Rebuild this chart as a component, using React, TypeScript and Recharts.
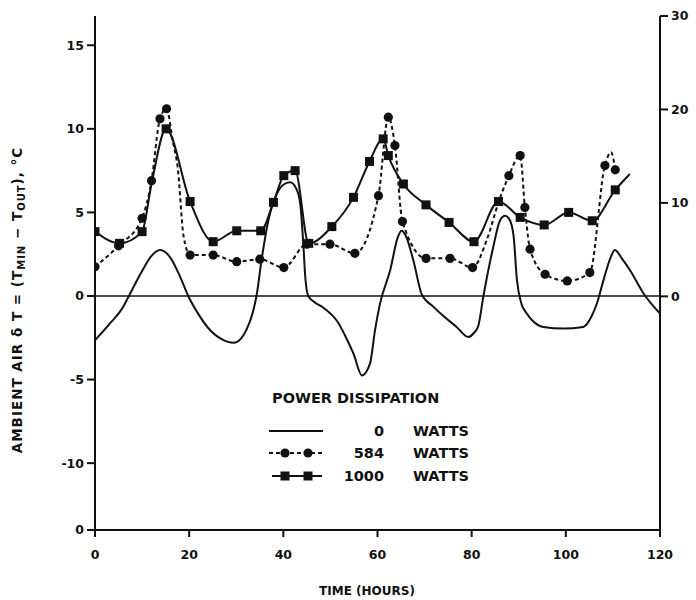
import React from 'react';
import { LineChart, Line, XAxis, YAxis, ReferenceLine, Legend } from 'recharts';

// Time axis (hours)
const hourTicks = [0, 20, 40, 60, 80, 100, 120];

// Left axis: ambient air delta T, deg C (the bottom edge is printed as "0")
const leftTicks = [-14, -10, -5, 0, 5, 10, 15];
const leftTickLabels = ['0', '-10', '-5', '0', '5', '10', '15'];
// Right axis scale
const rightTicks = [0, 10, 20, 30];

// 0 W trace
const hours0 = [
  0, 3, 6, 7.2, 10, 12, 13.8, 16, 18, 19.8, 22, 24, 27, 29.4, 31, 32.2, 33.5, 34.3, 35.4, 36.8,
  38.6, 40, 41.4, 42.7, 43.6, 44.2, 44.7, 45.3, 46.5, 48.5, 50, 51.3, 53, 54.9, 56.7, 58.4,
  59.5, 60.5, 62.7, 64.3, 65.1, 66, 67.6, 69.4, 71.9, 74, 76.8, 79.3, 80.5, 81.4, 82.5, 84.6, 86,
  87.1, 88, 88.9, 89.6, 90.5, 91.7, 93, 95.2, 99.5, 103.7, 105.5, 106.6, 108, 109.5, 110.4, 112,
  113.6, 116.5, 120,
];
const temps0 = [
  -2.65, -1.7, -0.65, 0, 1.5, 2.4, 2.75, 2.3, 1.2, 0, -1.1, -1.9, -2.6, -2.8, -2.55, -2.0, -1.0, 0,
  2.2, 4.5, 6.1, 6.65, 6.8, 6.45, 5.5, 3.3, 1.0, 0, -0.35, -0.7, -1.05, -1.45, -2.3, -3.45, -4.75,
  -4.05, -2.0, -0.5, 1.55, 3.5, 3.9, 3.6, 2.15, 0.1, -0.65, -1.2, -1.85, -2.45, -2.2, -1.8, 0,
  2.95, 4.5, 4.8, 4.6, 3.6, 1.0, -0.4, -1.05, -1.5, -1.85, -1.95, -1.85, -1.2, -0.45, 0.95, 2.3,
  2.75, 2.2, 1.55, 0.15, -1.05,
];

// 584 W trace, with the hours that carry a plotted marker
const hours584 = [
  0, 5, 10, 12, 13.8, 15.2, 16.5, 17.6, 18.8, 20.2, 25.1, 30.1, 35, 40.1, 45, 49.9, 55.2, 60.2,
  62.3, 63.7, 65.3, 70.3, 75.4, 80.2, 83.2, 85.7, 87.9, 90.3, 91.3, 92.4, 95.6, 100.3, 105.1,
  108.3, 109.6, 110.5,
];
const temps584 = [
  1.75, 3.0, 4.65, 6.9, 10.6, 11.2, 9.3, 7.6, 3.6, 2.45, 2.45, 2.05, 2.2, 1.7, 3.1, 3.1, 2.55, 6.0,
  10.7, 9.0, 4.45, 2.25, 2.25, 1.7, 3.35, 5.6, 7.2, 8.4, 5.3, 2.8, 1.3, 0.9, 1.4, 7.8, 8.6, 7.55,
];
const marked584 = [
  true, true, true, true, true, true, false, false, false, true, true, true, true, true, true, true,
  true, true, true, true, true, true, true, true, false, false, true, true, true, true, true, true,
  true, true, false, true,
];

// 1000 W trace
const hours1000 = [
  0, 5.2, 10, 12, 15.1, 20.2, 25.1, 30.1, 35.2, 37.9, 40.1, 42.5, 45.4, 50.3, 54.9, 58.3, 61.2,
  62.3, 65.5, 70.3, 75.2, 80.5, 85.7, 90.3, 95.4, 100.6, 105.6, 110.5, 113.6,
];
const temps1000 = [
  3.85, 3.15, 3.85, 6.7, 10.0, 5.65, 3.25, 3.9, 3.9, 5.6, 7.2, 7.5, 3.15, 4.15, 5.9, 8.05, 9.4,
  8.4, 6.7, 5.45, 4.4, 3.25, 5.65, 4.7, 4.25, 5.0, 4.5, 6.35, 7.3,
];
const marked1000 = [
  true, true, true, false, true, true, true, true, true, true, true, true, true, true, true, true,
  true, true, true, true, true, true, true, true, true, true, true, true, false,
];

const legendTitle = 'POWER DISSIPATION';
const legendWatts = ['0', '584', '1000'];
const unitText = 'WATTS';

const series0 = hours0.map((t, i) => ({ t, v: temps0[i] }));
const series584 = hours584.map((t, i) => ({ t, v: temps584[i], m: marked584[i] }));
const series1000 = hours1000.map((t, i) => ({ t, v: temps1000[i], m: marked1000[i] }));

const FONT = '"DejaVu Sans", sans-serif';
const INK = '#111';

const tickStyle = { fontFamily: FONT, fontWeight: 700, fontSize: 12.5, fill: INK };

const RoundDot = (props: any) => {
  const { cx, cy, payload, index } = props;
  if (!payload || !payload.m || cx == null) return <g key={`c${index}`} />;
  return <circle key={`c${index}`} cx={cx} cy={cy} r={4.6} fill={INK} stroke="none" />;
};

const SquareDot = (props: any) => {
  const { cx, cy, payload, index } = props;
  if (!payload || !payload.m || cx == null) return <g key={`s${index}`} />;
  return <rect key={`s${index}`} x={cx - 4.5} y={cy - 4.5} width={9} height={9} fill={INK} />;
};

const YTitle = () => (
  <text
    transform="translate(22,300) rotate(-90)"
    textAnchor="middle"
    style={{ fontFamily: FONT, fontWeight: 700, fontSize: 13.5, letterSpacing: 1, fill: INK }}
  >
    <tspan>AMBIENT AIR δ T = (T</tspan>
    <tspan dy={3} fontSize={10}>MIN</tspan>
    <tspan dy={-3}> − T</tspan>
    <tspan dy={3} fontSize={10}>OUT</tspan>
    <tspan dy={-3}>), °C</tspan>
  </text>
);

const XTitle = () => (
  <text
    x={367}
    y={595}
    textAnchor="middle"
    style={{ fontFamily: FONT, fontWeight: 700, fontSize: 12, fill: INK }}
  >
    TIME (HOURS)
  </text>
);

const LegendBox = () => {
  const txt = { fontFamily: FONT, fontWeight: 700, fontSize: 14.5, fill: INK };
  const rows = [431, 453, 476];
  return (
    <svg width={696} height={600} style={{ position: 'absolute', left: 0, top: 0 }}>
      <text x={272} y={403} style={txt}>{legendTitle}</text>
      {/* 0 W sample */}
      <line x1={269} x2={323} y1={rows[0]} y2={rows[0]} stroke={INK} strokeWidth={2.2} />
      {/* 584 W sample */}
      <line x1={269} x2={323} y1={rows[1]} y2={rows[1]} stroke={INK} strokeWidth={2.2} strokeDasharray="4 3" />
      <circle cx={285} cy={rows[1]} r={4.6} fill={INK} />
      <circle cx={308} cy={rows[1]} r={4.6} fill={INK} />
      {/* 1000 W sample */}
      <line x1={272} x2={322} y1={rows[2]} y2={rows[2]} stroke={INK} strokeWidth={2.2} />
      <rect x={280.5} y={rows[2] - 4.5} width={9} height={9} fill={INK} />
      <rect x={303.5} y={rows[2] - 4.5} width={9} height={9} fill={INK} />
      {legendWatts.map((w, i) => (
        <text key={w} x={384} y={rows[i] + 5} textAnchor="end" style={txt}>{w}</text>
      ))}
      {legendWatts.map((w, i) => (
        <text key={`u${w}`} x={413} y={rows[i] + 5} style={txt}>{unitText}</text>
      ))}
    </svg>
  );
};

export default function App() {
  return (
    <div style={{ position: 'absolute', left: 0, top: 0, width: 696, height: 600, background: '#fff' }}>
      <LineChart width={696} height={600} margin={{ top: 16, right: 0, bottom: 0, left: 0 }}>
        <XAxis
          xAxisId="b"
          type="number"
          dataKey="t"
          domain={[0, 120]}
          ticks={hourTicks}
          height={70}
          axisLine={{ stroke: INK, strokeWidth: 2 }}
          tickLine={{ stroke: INK, strokeWidth: 2 }}
          tickSize={7}
          tickMargin={13}
          tick={tickStyle}
          allowDataOverflow
          label={{ content: XTitle }}
        />
        <XAxis
          xAxisId="top"
          orientation="top"
          type="number"
          domain={[0, 120]}
          height={0}
          tick={false}
          tickLine={false}
          axisLine={{ stroke: INK, strokeWidth: 2.2 }}
          allowDataOverflow
        />
        <YAxis
          yAxisId="l"
          type="number"
          domain={[-14, 16.75]}
          ticks={leftTicks}
          width={95}
          tickFormatter={(v: number) => leftTickLabels[leftTicks.indexOf(v)] ?? String(v)}
          axisLine={{ stroke: INK, strokeWidth: 2 }}
          tickLine={{ stroke: INK, strokeWidth: 2 }}
          tickSize={8}
          tickMargin={3}
          tick={tickStyle}
          allowDataOverflow
          interval={0}
          label={{ content: YTitle }}
        />
        <YAxis
          yAxisId="r"
          orientation="right"
          type="number"
          domain={[-25, 30]}
          ticks={rightTicks}
          width={36}
          axisLine={{ stroke: INK, strokeWidth: 2 }}
          tickLine={{ stroke: INK, strokeWidth: 2 }}
          tickSize={8}
          tickMargin={3}
          tick={{ ...tickStyle, textAnchor: 'start' }}
          allowDataOverflow
          interval={0}
        />
        <ReferenceLine xAxisId="b" yAxisId="l" y={0} stroke={INK} strokeWidth={1.6} />
        <Line
          xAxisId="b"
          yAxisId="l"
          name="0"
          data={series0}
          dataKey="v"
          type="monotone"
          stroke={INK}
          strokeWidth={2}
          dot={false}
          isAnimationActive={false}
        />
        <Line
          xAxisId="b"
          yAxisId="l"
          name="584"
          data={series584}
          dataKey="v"
          type="monotone"
          stroke={INK}
          strokeWidth={2}
          strokeDasharray="4 3"
          dot={RoundDot}
          activeDot={false}
          isAnimationActive={false}
        />
        <Line
          xAxisId="b"
          yAxisId="l"
          name="1000"
          data={series1000}
          dataKey="v"
          type="monotone"
          stroke={INK}
          strokeWidth={2}
          dot={SquareDot}
          activeDot={false}
          isAnimationActive={false}
        />
        <Legend
          content={LegendBox}
          layout="vertical"
          align="center"
          verticalAlign="middle"
          wrapperStyle={{ position: 'absolute', left: 0, top: 0, width: 696, height: 600, pointerEvents: 'none' }}
        />
      </LineChart>
    </div>
  );
}
